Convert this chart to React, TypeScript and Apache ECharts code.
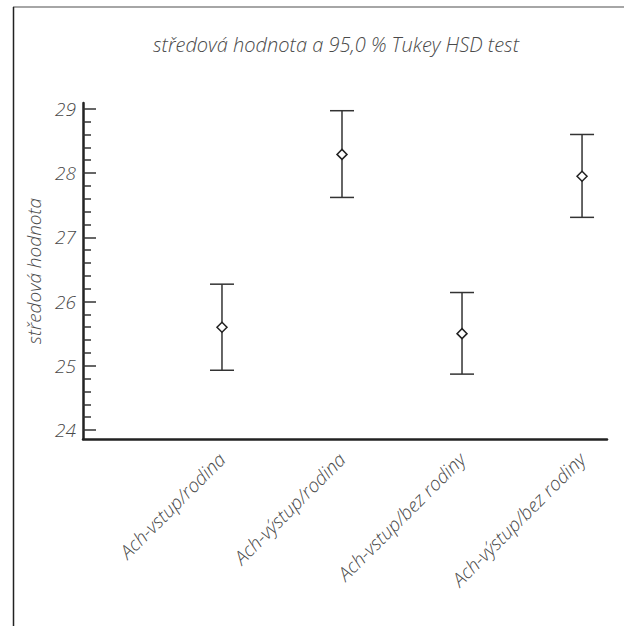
import React, { useEffect, useRef } from "react";
import * as echarts from "echarts";

const categories = ["Ach-vstup/rodina", "Ach-výstup/rodina", "Ach-vstup/bez rodiny", "Ach-výstup/bez rodiny"];
const means = [25.6, 28.29, 25.5, 27.95];
const lowers = [24.93, 27.62, 24.87, 27.31];
const uppers = [26.27, 28.97, 26.14, 28.6];
const yMajorTicks = [24, 25, 26, 27, 28, 29];
const yMinorTicks: number[] = [];
for (let i = 0; i < yMajorTicks.length - 1; i++) {
  for (let k = 1; k < 5; k++) yMinorTicks.push(+(yMajorTicks[i] + k * 0.2).toFixed(1));
}
const titleText = "středová hodnota a 95,0 % Tukey HSD test";
const yName = "středová hodnota";

const FONT = "'Open Sans', 'DejaVu Sans', sans-serif";
const TXT = "#4a4a4a";

export default function App() {
  const ref = useRef<HTMLDivElement>(null);
  useEffect(() => {
    const chart = echarts.init(ref.current!, null, { renderer: "svg" });
    const data = categories.map((c, i) => [i, lowers[i], means[i], uppers[i]]);
    chart.setOption({
      animation: false,
      backgroundColor: "#fff",
      title: {
        text: titleText,
        left: 331,
        top: 29,
        textAlign: "center",
        textStyle: { fontFamily: FONT, fontStyle: "italic", fontWeight: 300, fontSize: 20, color: TXT },
      },
      graphic: [
        { type: "line", shape: { x1: 13, y1: 7, x2: 624, y2: 7 }, style: { stroke: "#888", lineWidth: 1.5 } },
        { type: "line", shape: { x1: 13.5, y1: 7, x2: 13.5, y2: 626 }, style: { stroke: "#222", lineWidth: 1.5 } },
      ],
      grid: { left: 83, right: 17, top: 103, bottom: 187, containLabel: false },
      xAxis: {
        type: "value",
        min: -1.158,
        max: 3.208,
        splitLine: { show: false },
        axisLine: { show: true, onZero: false, lineStyle: { color: "#222", width: 2.5 } },
        axisTick: { show: false },
        axisLabel: {
          customValues: [0, 1, 2, 3],
          formatter: (v: number) => categories[Math.round(v)] ?? "",
          rotate: 45,
          margin: 17,
          fontFamily: FONT,
          fontStyle: "italic",
          fontWeight: 300,
          fontSize: 19,
          color: TXT,
        },
      },
      yAxis: [
        {
          type: "value",
          min: 23.86,
          max: 29.09,
          position: "left",
          splitLine: { show: false },
          axisLine: { show: true, onZero: false, lineStyle: { color: "#222", width: 2.5 } },
          axisTick: { show: true, inside: true, length: 13, customValues: yMajorTicks, lineStyle: { color: "#333", width: 1.5 } },
          axisLabel: {
            customValues: yMajorTicks,
            margin: 7,
            fontFamily: FONT,
            fontStyle: "italic",
            fontWeight: 300,
            fontSize: 19,
            color: TXT,
          },
          name: yName,
          nameLocation: "middle",
          nameRotate: 90,
          nameGap: 40,
          nameTextStyle: { fontFamily: FONT, fontStyle: "italic", fontWeight: 300, fontSize: 19, color: TXT },
        },
        {
          type: "value",
          min: 23.86,
          max: 29.09,
          position: "left",
          offset: 0,
          splitLine: { show: false },
          axisLine: { show: false, onZero: false },
          axisTick: { show: true, inside: true, length: 8, customValues: yMinorTicks, lineStyle: { color: "#333", width: 1.5 } },
          axisLabel: { show: false },
        },
      ],
      series: [
        {
          type: "custom",
          xAxisIndex: 0,
          yAxisIndex: 0,
          data,
          renderItem: (params: any, api: any) => {
            const x = api.value(0);
            const lo = api.coord([x, api.value(1)]);
            const mid = api.coord([x, api.value(2)]);
            const hi = api.coord([x, api.value(3)]);
            const hw = 12;
            const d = 5;
            const lineStyle = { stroke: "#333", lineWidth: 1.5 };
            return {
              type: "group",
              children: [
                { type: "line", shape: { x1: lo[0], y1: lo[1], x2: hi[0], y2: hi[1] }, style: lineStyle },
                { type: "line", shape: { x1: lo[0] - hw, y1: lo[1], x2: lo[0] + hw, y2: lo[1] }, style: lineStyle },
                { type: "line", shape: { x1: hi[0] - hw, y1: hi[1], x2: hi[0] + hw, y2: hi[1] }, style: lineStyle },
                {
                  type: "polygon",
                  shape: { points: [[mid[0], mid[1] - d], [mid[0] + d, mid[1]], [mid[0], mid[1] + d], [mid[0] - d, mid[1]]] },
                  style: { fill: "#fff", stroke: "#222", lineWidth: 1.5 },
                },
              ],
            };
          },
        },
      ],
    });
    return () => chart.dispose();
  }, []);
  return <div ref={ref} style={{ position: "fixed", left: 0, top: 0, width: 624, height: 626 }} />;
}
